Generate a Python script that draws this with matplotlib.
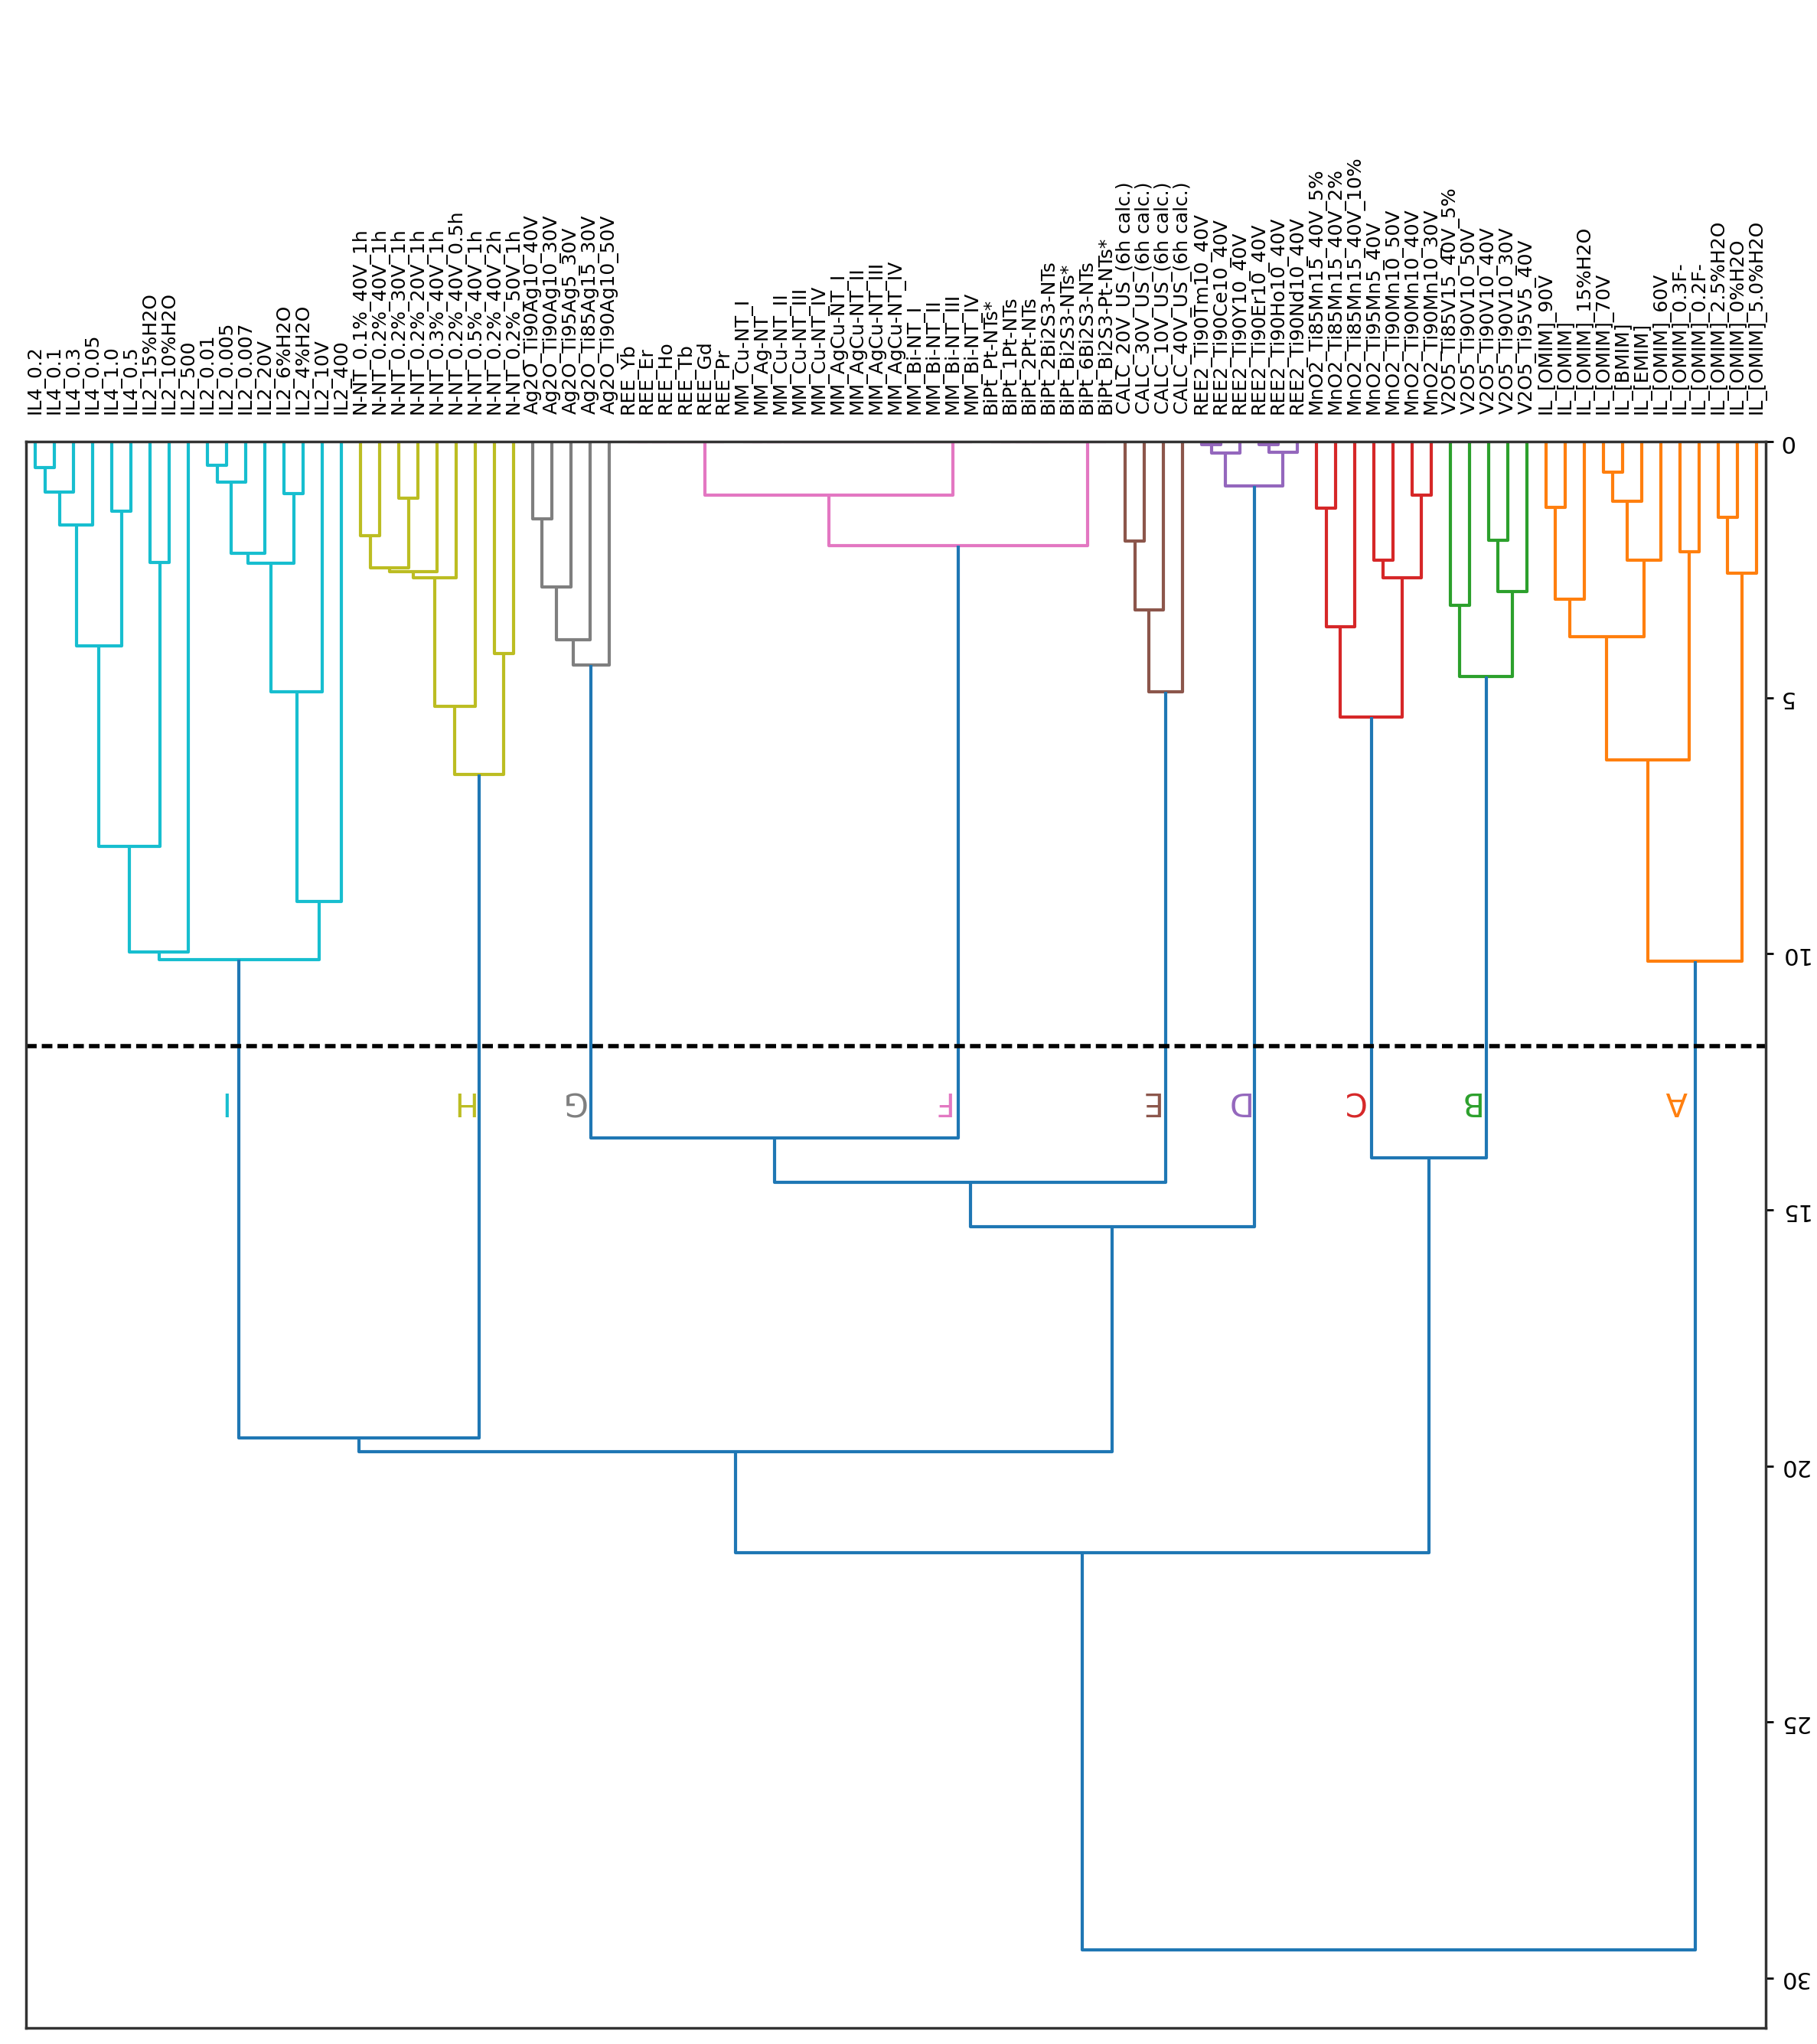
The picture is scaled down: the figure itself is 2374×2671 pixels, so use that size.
import matplotlib
matplotlib.use("Agg")
import matplotlib.pyplot as plt

labels = ["IL4_0.2", "IL4_0.1", "IL4_0.3", "IL4_0.05", "IL4_1.0", "IL4_0.5",
          "IL2_15%H2O", "IL2_10%H2O", "IL2_500", "IL2_0.01", "IL2_0.005", "IL2_0.007",
          "IL2_20V", "IL2_6%H2O", "IL2_4%H2O", "IL2_10V", "IL2_400",
          "N-NT_0.1%_40V_1h", "N-NT_0.2%_40V_1h", "N-NT_0.2%_30V_1h", "N-NT_0.2%_20V_1h",
          "N-NT_0.3%_40V_1h", "N-NT_0.2%_40V_0.5h", "N-NT_0.5%_40V_1h", "N-NT_0.2%_40V_2h",
          "N-NT_0.2%_50V_1h",
          "Ag2O_Ti90Ag10_40V", "Ag2O_Ti90Ag10_30V", "Ag2O_Ti95Ag5_30V", "Ag2O_Ti85Ag15_30V",
          "Ag2O_Ti90Ag10_50V",
          "REE_Yb", "REE_Er", "REE_Ho", "REE_Tb", "REE_Gd", "REE_Pr",
          "MM_Cu-NT_I", "MM_Ag-NT", "MM_Cu-NT_II", "MM_Cu-NT_III", "MM_Cu-NT_IV",
          "MM_AgCu-NT_I", "MM_AgCu-NT_II", "MM_AgCu-NT_III", "MM_AgCu-NT_IV",
          "MM_Bi-NT_I", "MM_Bi-NT_II", "MM_Bi-NT_III", "MM_Bi-NT_IV",
          "BiPt_Pt-NTs*", "BiPt_1Pt-NTs", "BiPt_2Pt-NTs", "BiPt_2Bi2S3-NTs", "BiPt_Bi2S3-NTs*",
          "BiPt_6Bi2S3-NTs", "BiPt_Bi2S3-Pt-NTs*",
          "CALC_20V_US_(6h calc.)", "CALC_30V_US_(6h calc.)", "CALC_10V_US_(6h calc.)",
          "CALC_40V_US_(6h calc.)",
          "REE2_Ti90Tm10_40V", "REE2_Ti90Ce10_40V", "REE2_Ti90Y10_40V", "REE2_Ti90Er10_40V",
          "REE2_Ti90Ho10_40V", "REE2_Ti90Nd10_40V",
          "MnO2_Ti85Mn15_40V_5%", "MnO2_Ti85Mn15_40V_2%", "MnO2_Ti85Mn15_40V_10%",
          "MnO2_Ti95Mn5_40V", "MnO2_Ti90Mn10_50V", "MnO2_Ti90Mn10_40V", "MnO2_Ti90Mn10_30V",
          "V2O5_Ti85V15_40V_5%", "V2O5_Ti90V10_50V", "V2O5_Ti90V10_40V", "V2O5_Ti90V10_30V",
          "V2O5_Ti95V5_40V",
          "IL_[OMIM]_90V", "IL_[OMIM]", "IL_[OMIM]_15%H2O", "IL_[OMIM]_70V", "IL_[BMIM]",
          "IL_[EMIM]", "IL_[OMIM]_60V", "IL_[OMIM]_0.3F-", "IL_[OMIM]_0.2F-",
          "IL_[OMIM]_2.5%H2O", "IL_[OMIM]_0%H2O", "IL_[OMIM]_5.0%H2O"]

# clusters from left to right: name, number of leaves, colour
cluster_names = ["I", "H", "G", "F", "E", "D", "C", "B", "A"]
cluster_sizes = [17, 9, 5, 26, 4, 6, 7, 5, 12]
cluster_colors = ["C9", "C8", "C7", "C6", "C5", "C4", "C3", "C2", "C1"]

# linkage rows (left, right, height); ids >= 91 refer to earlier rows (91 + row)
merges = [
    # I
    (0, 1, 0.50), (91, 2, 0.99), (92, 3, 1.63), (4, 5, 1.36), (93, 94, 3.99),
    (6, 7, 2.36), (95, 96, 7.90), (97, 8, 9.97), (9, 10, 0.46), (99, 11, 0.79),
    (100, 12, 2.18), (13, 14, 1.01), (101, 102, 2.38), (103, 15, 4.89),
    (104, 16, 8.97), (98, 105, 10.12),
    # H
    (17, 18, 1.84), (19, 20, 1.11), (107, 108, 2.46), (109, 21, 2.54),
    (110, 22, 2.66), (111, 23, 5.16), (24, 25, 4.14), (112, 113, 6.49),
    # G
    (26, 27, 1.51), (115, 28, 2.84), (116, 29, 3.86), (117, 30, 4.36),
    # F
    (31, 32, 0.0), (119, 33, 0.0), (120, 34, 0.0), (121, 35, 0.0), (122, 36, 0.0),
    (37, 38, 0.0), (124, 39, 0.0), (125, 40, 0.0), (126, 41, 0.0), (127, 42, 0.0),
    (128, 43, 0.0), (129, 44, 0.0), (130, 45, 0.0), (131, 46, 0.0), (132, 47, 0.0),
    (133, 48, 0.0), (134, 49, 0.0),
    (50, 51, 0.0), (136, 52, 0.0), (137, 53, 0.0), (138, 54, 0.0), (139, 55, 0.0),
    (140, 56, 0.0),
    (123, 135, 1.04), (142, 141, 2.03),
    # E
    (57, 58, 1.94), (144, 59, 3.29), (145, 60, 4.88),
    # D
    (61, 62, 0.06), (147, 63, 0.22), (64, 65, 0.06), (149, 66, 0.21), (148, 150, 0.86),
    # C
    (67, 68, 1.30), (152, 69, 3.62), (70, 71, 2.32), (72, 73, 1.05), (154, 155, 2.65),
    (153, 156, 5.38),
    # B
    (74, 75, 3.20), (76, 77, 1.93), (159, 78, 2.93), (158, 160, 4.59),
    # A
    (79, 80, 1.28), (162, 81, 3.07), (82, 83, 0.59), (164, 84, 1.16), (165, 85, 2.32),
    (163, 166, 3.81), (86, 87, 2.15), (167, 168, 6.22), (88, 89, 1.47), (170, 90, 2.57),
    (169, 171, 10.14),
    # above the cut
    (118, 143, 13.60), (173, 146, 14.46), (174, 151, 15.33), (106, 114, 19.45),
    (176, 175, 19.72), (157, 161, 13.99), (177, 178, 21.70), (179, 172, 29.45),
]
cluster_roots = [106, 114, 118, 143, 146, 151, 157, 161, 172]
cut_height = 11.8
letter_height = 12.87

n = len(labels)
leaf_color = []
for size, col in zip(cluster_sizes, cluster_colors):
    leaf_color += [col] * size

xpos = {i: 5 + 10 * i for i in range(n)}
hpos = {i: 0.0 for i in range(n)}
ncol = {i: leaf_color[i] for i in range(n)}

fig = plt.figure(figsize=(23.74, 26.71), dpi=100)
ax = fig.add_axes([0.0143, 0.0079, 0.9575, 0.776])

for k, (a, b, h) in enumerate(merges):
    node = n + k
    xpos[node] = (xpos[a] + xpos[b]) / 2
    hpos[node] = h
    if h < cut_height and ncol[a] == ncol[b]:
        col = ncol[a]
    else:
        col = "C0"
    ncol[node] = col
    ax.plot([xpos[a], xpos[a], xpos[b], xpos[b]], [hpos[a], h, h, hpos[b]],
            color=col, lw=3.0, solid_capstyle="butt")

ax.axhline(cut_height, color="black", ls="--", lw=4, dashes=(2.5, 1.2))

for name, col, root in zip(cluster_names, cluster_colors, cluster_roots):
    ax.text(xpos[root] - 9.6, letter_height, name, color=col, fontsize=30,
            rotation=180, ha="center", va="center")

ax.set_xlim(0, 10 * n)
ax.set_ylim(30.97, 0)
ax.xaxis.tick_top()
ax.set_xticks([5 + 10 * i for i in range(n)])
ax.set_xticklabels(labels, rotation=90, fontsize=18)
ax.tick_params(axis="x", length=0, pad=26)
ax.yaxis.tick_right()
ax.set_yticks([0, 5, 10, 15, 20, 25, 30])
ax.set_yticklabels(["0", "5", "10", "15", "20", "25", "30"], rotation=180,
                   fontsize=22, va="center")
ax.tick_params(axis="y", length=7, width=2, pad=5)
for s in ax.spines.values():
    s.set_linewidth(2.5)
    s.set_color("#333333")

fig.savefig("out.png", dpi=100)
